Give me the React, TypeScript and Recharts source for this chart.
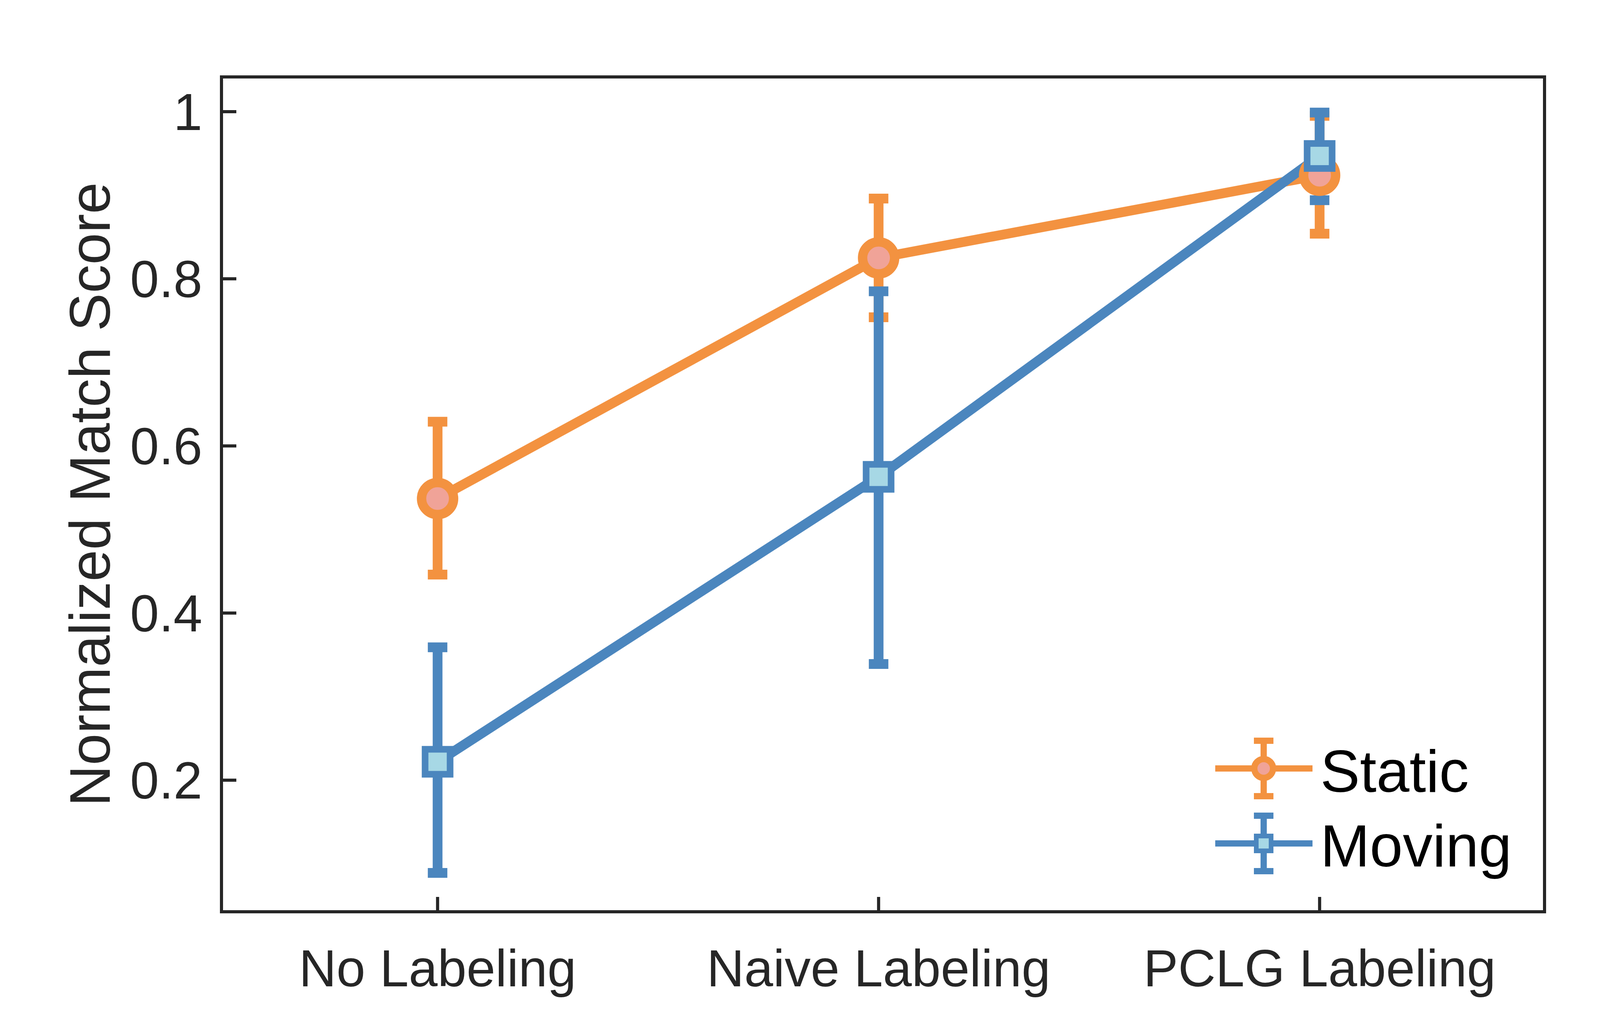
import React from 'react';
import { LineChart, Line, XAxis, YAxis, ErrorBar, Legend } from 'recharts';

const categories = ['No Labeling', 'Naive Labeling', 'PCLG Labeling'];
const staticMean = [0.537, 0.825, 0.924];
const staticLow = [0.446, 0.754, 0.854];
const staticHigh = [0.629, 0.896, 0.995];
const movingMean = [0.222, 0.563, 0.947];
const movingLow = [0.089, 0.339, 0.894];
const movingHigh = [0.359, 0.785, 0.999];
const yTicks = [0.2, 0.4, 0.6, 0.8, 1];
const xTicks = [1, 2, 3];
const seriesNames = ['Static', 'Moving'];

const ORANGE = '#F39240';
const PINK = '#F0A398';
const BLUE = '#4B86BE';
const LIGHTBLUE = '#A7D8E5';
const AXIS = '#262626';
const FONT = "'Liberation Sans', Arial, sans-serif";

const data = categories.map((c, i) => ({
  x: i + 1,
  name: c,
  s: staticMean[i],
  sErr: [staticMean[i] - staticLow[i], staticHigh[i] - staticMean[i]],
  m: movingMean[i],
  mErr: [movingMean[i] - movingLow[i], movingHigh[i] - movingMean[i]],
}));

const X_DOMAIN: [number, number] = [0.51, 3.51];
const Y_DOMAIN: [number, number] = [0.0425, 1.0416];

const StaticDot = (props: any) => {
  const { cx, cy, index } = props;
  if (cx == null || cy == null) return <g key={`sd-${index}`} />;
  return <circle key={`sd-${index}`} cx={cx} cy={cy} r={41} fill={PINK} stroke={ORANGE} strokeWidth={24} />;
};

const MovingDot = (props: any) => {
  const { cx, cy, index } = props;
  if (cx == null || cy == null) return <g key={`md-${index}`} />;
  const s = 64;
  return <rect key={`md-${index}`} x={cx - s / 2} y={cy - s / 2} width={s} height={s} fill={LIGHTBLUE} stroke={BLUE} strokeWidth={17} />;
};

const LegendContent = () => {
  const rows = [
    { name: seriesNames[0], color: ORANGE, fill: PINK, shape: 'circle', cy: 100, base: 160 },
    { name: seriesNames[1], color: BLUE, fill: LIGHTBLUE, shape: 'square', cy: 292, base: 351 },
  ];
  return (
    <svg width={900} height={420} style={{ display: 'block', overflow: 'visible' }}>
      {rows.map((r) => (
        <g key={r.name}>
          <line x1={13} x2={262} y1={r.cy} y2={r.cy} stroke={r.color} strokeWidth={16} />
          <line x1={137} x2={137} y1={r.cy - 71} y2={r.cy + 71} stroke={r.color} strokeWidth={16} />
          <line x1={112} x2={162} y1={r.cy - 71} y2={r.cy - 71} stroke={r.color} strokeWidth={16} />
          <line x1={112} x2={162} y1={r.cy + 71} y2={r.cy + 71} stroke={r.color} strokeWidth={16} />
          {r.shape === 'circle' ? (
            <circle cx={137} cy={r.cy} r={24} fill={r.fill} stroke={r.color} strokeWidth={16} />
          ) : (
            <rect x={137 - 19} y={r.cy - 19} width={38} height={38} fill={r.fill} stroke={r.color} strokeWidth={12} />
          )}
          <text x={282} y={r.base} fontSize={152} fontFamily={FONT} fill="#000">{r.name}</text>
        </g>
      ))}
    </svg>
  );
};

const YLabel = () => (
  <text
    x={273}
    y={1258}
    transform="rotate(-90 273 1258)"
    textAnchor="middle"
    fontSize={146}
    fontFamily={FONT}
    fill={AXIS}
  >
    Normalized Match Score
  </text>
);

const axisLineStyle = { stroke: AXIS, strokeWidth: 8, strokeLinecap: 'square' as const };
const tickLineStyle = { stroke: AXIS, strokeWidth: 8 };
const tickText = { fill: AXIS, fontSize: 133, fontFamily: FONT };

export default function App() {
  return (
    <div style={{ width: 4354, height: 2609, background: '#fff' }}>
      <LineChart
        width={4354}
        height={2609}
        data={data}
        margin={{ top: 179, right: 398, bottom: 32, left: 159 }}
        style={{ fontFamily: FONT }}
      >
        <XAxis
          dataKey="x"
          type="number"
          domain={X_DOMAIN}
          allowDataOverflow
          ticks={xTicks}
          tickFormatter={(v: number) => categories[v - 1] ?? ''}
          orientation="bottom"
          height={250}
          axisLine={axisLineStyle}
          tickLine={tickLineStyle}
          tickSize={-38}
          tickMargin={135}
          tick={tickText}
          interval={0}
        />
        <XAxis
          xAxisId="top"
          dataKey="x"
          type="number"
          domain={X_DOMAIN}
          allowDataOverflow
          ticks={xTicks}
          orientation="top"
          height={10}
          axisLine={axisLineStyle}
          tickLine={tickLineStyle}
          tickSize={-38}
          tick={false}
          interval={0}
        />
        <YAxis
          type="number"
          domain={Y_DOMAIN}
          allowDataOverflow
          ticks={yTicks}
          width={400}
          axisLine={axisLineStyle}
          tickLine={tickLineStyle}
          tickSize={-38}
          tickMargin={87}
          tick={tickText}
          interval={0}
          label={<YLabel />}
        />
        <YAxis
          yAxisId="right"
          orientation="right"
          type="number"
          domain={Y_DOMAIN}
          allowDataOverflow
          ticks={yTicks}
          width={10}
          axisLine={axisLineStyle}
          tickLine={tickLineStyle}
          tickSize={-38}
          tick={false}
          interval={0}
        />
        <Legend
          layout="horizontal"
          verticalAlign="middle"
          align="center"
          wrapperStyle={{ left: 3090, top: 1860, width: 900, height: 420 }}
          content={<LegendContent />}
        />
        <Line
          dataKey="s"
          name={seriesNames[0]}
          stroke={ORANGE}
          strokeWidth={25}
          dot={StaticDot}
          activeDot={false}
          isAnimationActive={false}
        >
          <ErrorBar dataKey="sErr" direction="y" width={25} strokeWidth={25} stroke={ORANGE} />
        </Line>
        <Line
          dataKey="m"
          name={seriesNames[1]}
          stroke={BLUE}
          strokeWidth={25}
          dot={MovingDot}
          activeDot={false}
          isAnimationActive={false}
        >
          <ErrorBar dataKey="mErr" direction="y" width={25} strokeWidth={25} stroke={BLUE} />
        </Line>
      </LineChart>
    </div>
  );
}
